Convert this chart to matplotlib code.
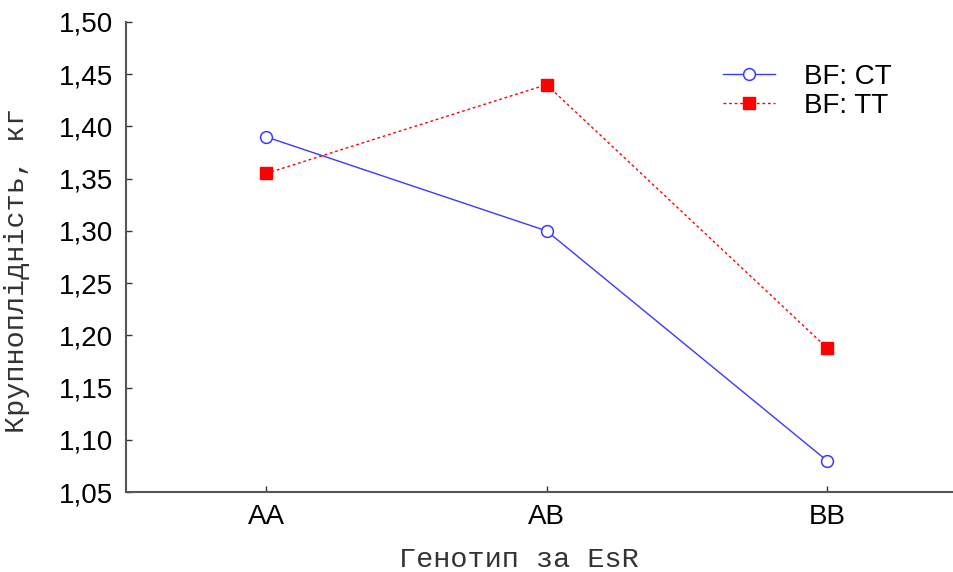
import matplotlib
matplotlib.use("Agg")
import matplotlib.pyplot as plt
from matplotlib.ticker import FuncFormatter

genotypes = ["AA", "AB", "BB"]
bf_ct = [1.390, 1.300, 1.080]
bf_tt = [1.355, 1.440, 1.188]
y_ticks = [1.05, 1.10, 1.15, 1.20, 1.25, 1.30, 1.35, 1.40, 1.45, 1.50]

W, H = 954, 572
fig = plt.figure(figsize=(W / 100, H / 100), dpi=100)
ax = fig.add_axes([126 / W, 1 - 492 / H, 1 - 126 / W, (492 - 22) / H])

x = list(range(len(genotypes)))
ax.plot(x, bf_ct, color="#3a3aff", lw=1.0, marker="o", ms=8.5,
        mfc="white", mec="#3a3aff", mew=1.1, label="BF: CT")
ax.plot(x, bf_tt, color="red", lw=1.0, ls=(0, (2, 2)), marker="s", ms=8.5,
        mfc="red", mec="red", label="BF: TT")

ax.set_xlim(-0.5, 2.453)
ax.set_ylim(1.05, 1.50)
ax.set_xticks(x)
ax.set_xticklabels(genotypes)
ax.set_yticks(y_ticks)
ax.yaxis.set_major_formatter(FuncFormatter(lambda v, p: f"{v:.2f}".replace(".", ",")))

for s in ("top", "right"):
    ax.spines[s].set_visible(False)
for s in ("left", "bottom"):
    ax.spines[s].set_color("#555555")
    ax.spines[s].set_linewidth(1.5)

ax.tick_params(direction="in", length=4, width=1, color="#333333",
               labelsize=20, pad=9)
for lab in ax.get_xticklabels() + ax.get_yticklabels():
    lab.set_family("Liberation Sans")

# axis titles in a typewriter face
fig.text(519 / W, 1 - 567 / H, "Генотип за EsR", family="Liberation Mono",
         fontsize=20.5, color="#333333", ha="center", va="baseline")
fig.text(17 / W, 1 - 270 / H, "Крупноплідність, кг", family="Liberation Mono",
         fontsize=20.5, color="#333333", rotation=90, ha="center", va="center")

leg = ax.legend(loc="upper left", bbox_to_anchor=(0.704, 0.940), frameon=False,
                prop={"family": "Liberation Sans", "size": 20},
                borderpad=0, handlelength=1.87, handletextpad=1.05,
                labelspacing=0.1)

fig.savefig("out.png", dpi=100)
